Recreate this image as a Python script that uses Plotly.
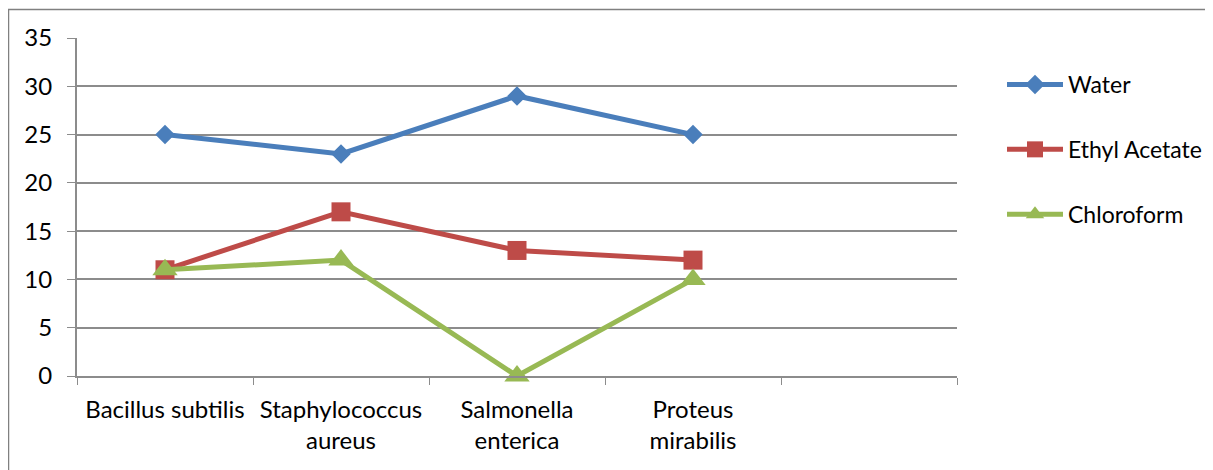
import plotly.graph_objects as go

categories = ["Bacillus subtilis", "Staphylococcus<br>aureus", "Salmonella<br>enterica", "Proteus<br>mirabilis", " "]
water = [25, 23, 29, 25]
ethyl_acetate = [11, 17, 13, 12]
chloroform = [11, 12, 0, 10]

# page body has an 8px margin; figure coordinates are offset by 8
OFF = 8
W, H = 1213 - OFF, 470 - OFF
L, R, T, B = 77 - OFF, 957 - OFF, 38 - OFF, 376 - OFF

FONT = "Lato, Open Sans, sans-serif"
GRID = "#8c8c8c"
FS = 24

fig = go.Figure()
series = [
    ("Water", water, "#4A7EBB", "diamond", 15),
    ("Ethyl Acetate", ethyl_acetate, "#BE4B48", "square", 19),
    ("Chloroform", chloroform, "#98B954", "triangle-up", 22),
]
for i, (name, vals, col, sym, sz) in enumerate(series):
    fig.add_trace(go.Scatter(
        x=categories[:len(vals)], y=vals, name=name, mode="lines+markers",
        line=dict(color=col, width=5),
        marker=dict(symbol=sym, size=sz, color=col, line=dict(width=0)),
        legendgroup=str(i), cliponaxis=False,
    ))

def px(x):
    return (x - OFF - L) / (R - L)

def py(y):
    return (B - (y - OFF)) / (B - T)

fig.update_layout(
    width=W, height=H,
    margin=dict(l=L, r=W - R, t=T, b=H - B, autoexpand=False),
    paper_bgcolor="white", plot_bgcolor="white",
    font=dict(family=FONT, size=FS, color="#000"),
    showlegend=True,
    legend=dict(x=px(1002), y=py(63), xanchor="left", yanchor="top",
                font=dict(size=23), tracegroupgap=32, itemwidth=56,
                bgcolor="rgba(0,0,0,0)"),
    xaxis=dict(type="category", categoryorder="array", categoryarray=categories,
               range=[-0.5, 4.5], tickson="boundaries", ticks="outside", ticklen=7,
               tickcolor=GRID, showgrid=False, showline=True, linecolor=GRID,
               linewidth=2, zeroline=False, tickfont=dict(size=FS),
               ticklabelstandoff=11),
    yaxis=dict(range=[0, 35], dtick=5, ticks="outside", ticklen=8, tickcolor=GRID,
               showgrid=True, gridcolor=GRID, gridwidth=2, showline=True,
               linecolor=GRID, linewidth=2, zeroline=False, ticklabelstandoff=10,
               tickfont=dict(size=FS)),
    shapes=[dict(type="rect", xref="paper", yref="paper",
                 x0=px(8.5), x1=px(1240), y0=py(9.5), y1=py(520),
                 line=dict(color="#808080", width=1.5), fillcolor="rgba(0,0,0,0)")],
)

fig.write_html("out.html")
